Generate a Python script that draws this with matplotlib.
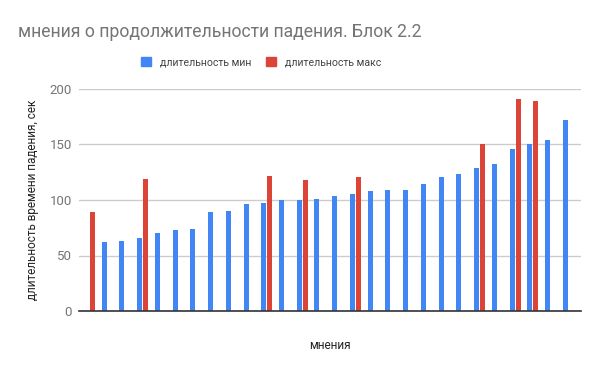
import numpy as np
import matplotlib
matplotlib.use("Agg")
import matplotlib.pyplot as plt
from matplotlib.patches import Patch

plt.rcParams['font.family'] = ['Roboto', 'DejaVu Sans']

nan = np.nan
# одно мнение = одна категория (подписи на оси не показаны)
opinions = [f"мнение {i + 1}" for i in range(28)]
dur_min = [nan, 62, 63, 66, 70, 73, 74, 89, 90, 96, 97, 100, 100, 101,
           104, 105, 108, 109, 109, 114, 121, 123, 129, 132, 146, 150, 154, 172]
dur_max = [89, nan, nan, 119, nan, nan, nan, nan, nan, nan, 122, nan, 118, nan,
           nan, 121, nan, nan, nan, nan, nan, nan, 150, nan, 191, 189, nan, nan]
y_ticks = [0, 50, 100, 150, 200]

blue = '#4285F4'
red = '#DB4437'

fig = plt.figure(figsize=(6, 3.71), dpi=100)
ax = fig.add_axes([79 / 600, 1 - 311 / 371, 502 / 600, 222 / 371])

x = np.arange(len(opinions))
w = 0.28
ax.bar(x - 0.17, dur_min, width=w, color=blue, zorder=3)
ax.bar(x + 0.17, dur_max, width=w, color=red, zorder=3)

ax.set_xlim(-0.59, 27.72)
ax.set_ylim(0, 200)
ax.set_yticks(y_ticks)
ax.set_xticks([])
ax.grid(axis='y', color='#cccccc', linewidth=1, zorder=0)
for s in ['top', 'right', 'left']:
    ax.spines[s].set_visible(False)
ax.spines['bottom'].set_color('#333333')
ax.spines['bottom'].set_linewidth(1.2)
ax.spines['bottom'].set_zorder(4)
ax.tick_params(axis='y', length=0, pad=5, labelsize=9.5, labelcolor='#757575')

ax.set_ylabel('длительность времени падения, сек', fontsize=8.5, color='#222222', labelpad=8)
ax.set_xlabel('мнения', fontsize=8.5, color='#222222', labelpad=20)

fig.text(18 / 600, 1 - 32 / 371, 'мнения о продолжительности падения. Блок 2.2',
         fontsize=12.7, color='#757575', va='center', ha='left')

handles = [Patch(color=blue, label='длительность мин'),
           Patch(color=red, label='длительность макс')]
fig.legend(handles=handles, loc='center', bbox_to_anchor=(261 / 600, 1 - 62 / 371), ncol=2,
           frameon=False, fontsize=7.6, handlelength=0.95, handleheight=0.95,
           handletextpad=0.85, columnspacing=1.33, labelcolor='#444444')

fig.savefig('out.png', dpi=100)
